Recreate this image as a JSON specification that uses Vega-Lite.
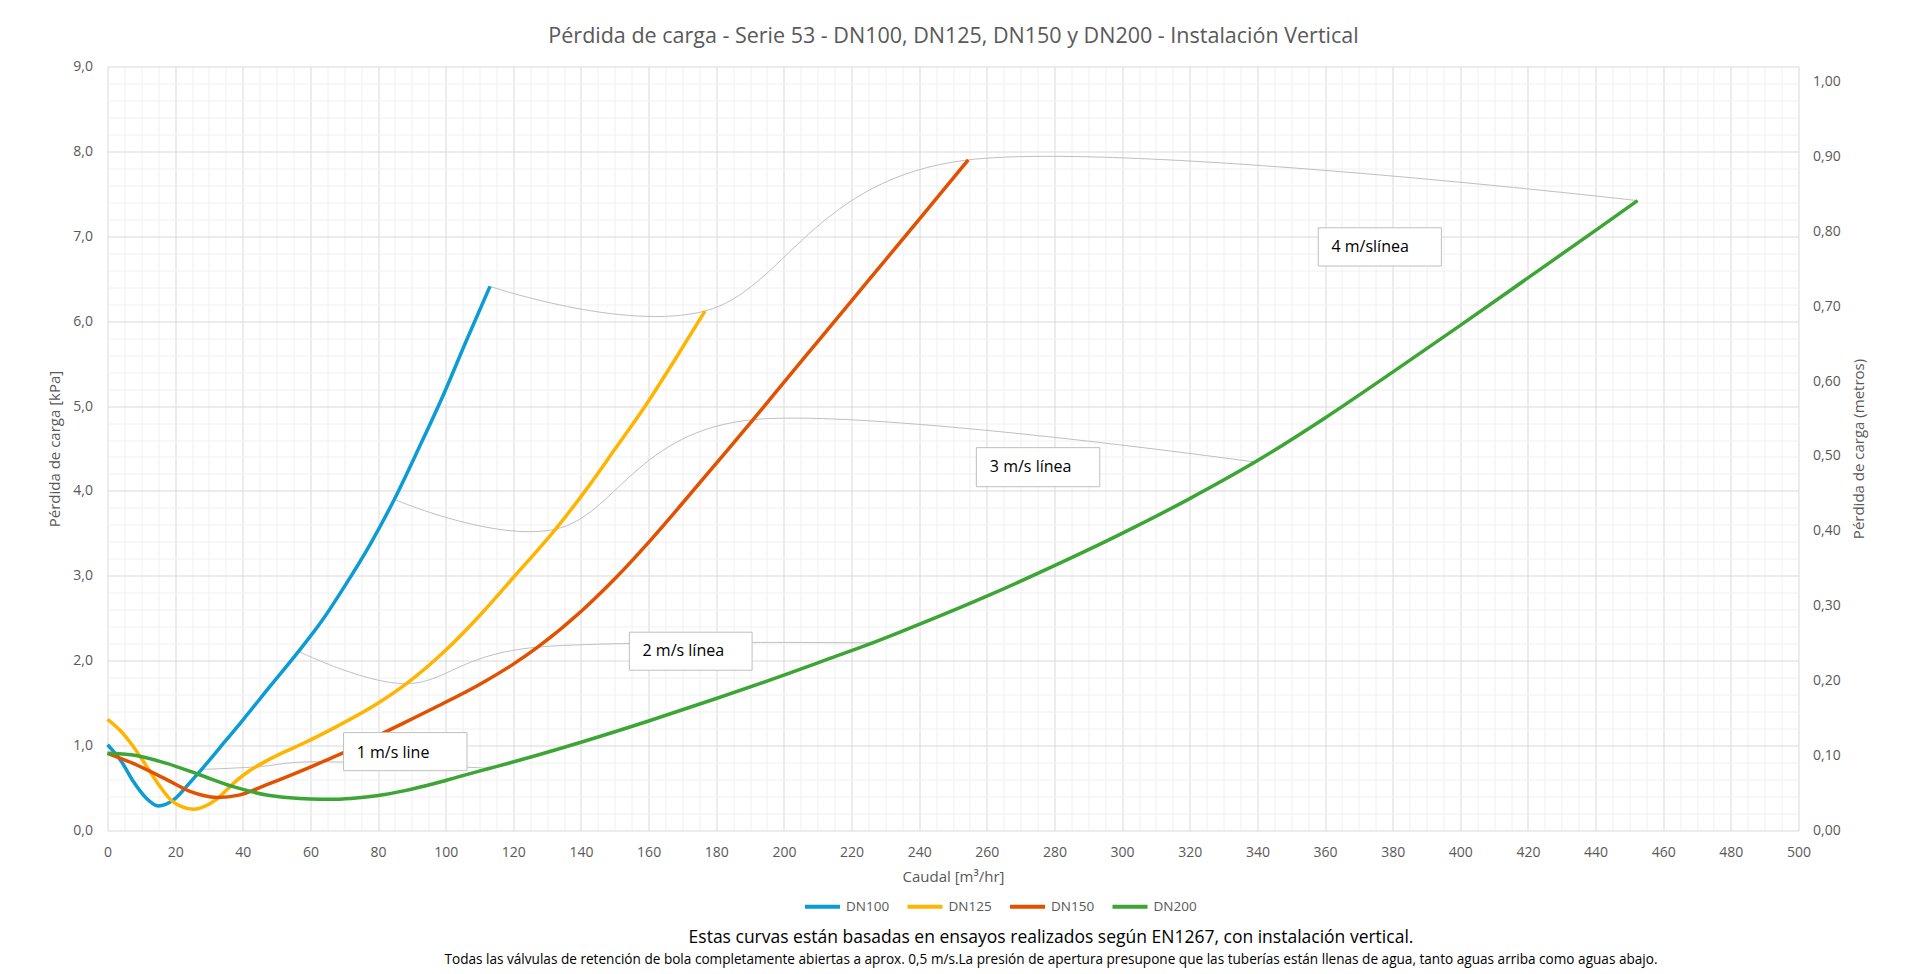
{
  "$schema": "https://vega.github.io/schema/vega-lite/v6.json",
  "width": 1691,
  "height": 764,
  "autosize": {"type": "none"},
  "padding": {"left": 107.5, "top": 66.5, "right": 116.5, "bottom": 143.5},
  "background": "white",
  "config": {"view": {"stroke": null}, "font": "Open Sans"},
  "title": {
    "text": "Estas curvas están basadas en ensayos realizados según EN1267, con instalación vertical.",
    "subtitle": "Todas las válvulas de retención de bola completamente abiertas a aprox. 0,5 m/s.La presión de apertura presupone que las tuberías están llenas de agua, tanto aguas arriba como aguas abajo.",
    "orient": "bottom",
    "anchor": "middle",
    "frame": "group",
    "fontSize": 17.5,
    "fontWeight": "normal",
    "color": "#000000",
    "subtitleFontSize": 13.6,
    "subtitleColor": "#000000",
    "subtitlePadding": 6,
    "dx": 98,
    "offset": 14
  },
  "datasets": {
    "curves": [
      {"serie": "DN100", "q": 0, "p": 1.01},
      {"serie": "DN100", "q": 4, "p": 0.82},
      {"serie": "DN100", "q": 7.6, "p": 0.58},
      {"serie": "DN100", "q": 11.5, "p": 0.38},
      {"serie": "DN100", "q": 15, "p": 0.29},
      {"serie": "DN100", "q": 19.5, "p": 0.36},
      {"serie": "DN100", "q": 23.4, "p": 0.52},
      {"serie": "DN100", "q": 27.4, "p": 0.7},
      {"serie": "DN100", "q": 33.3, "p": 0.98},
      {"serie": "DN100", "q": 40.2, "p": 1.31},
      {"serie": "DN100", "q": 48.1, "p": 1.7},
      {"serie": "DN100", "q": 56.5, "p": 2.11},
      {"serie": "DN100", "q": 63.4, "p": 2.47},
      {"serie": "DN100", "q": 70, "p": 2.87},
      {"serie": "DN100", "q": 77.8, "p": 3.38},
      {"serie": "DN100", "q": 84.8, "p": 3.9},
      {"serie": "DN100", "q": 92, "p": 4.5},
      {"serie": "DN100", "q": 99.4, "p": 5.14},
      {"serie": "DN100", "q": 106, "p": 5.76},
      {"serie": "DN100", "q": 113.1, "p": 6.41},
      {"serie": "DN125", "q": 0, "p": 1.31},
      {"serie": "DN125", "q": 3.7, "p": 1.18},
      {"serie": "DN125", "q": 7.6, "p": 0.99},
      {"serie": "DN125", "q": 11.5, "p": 0.76},
      {"serie": "DN125", "q": 15.5, "p": 0.52},
      {"serie": "DN125", "q": 19, "p": 0.35},
      {"serie": "DN125", "q": 21.4, "p": 0.29},
      {"serie": "DN125", "q": 25.5, "p": 0.25},
      {"serie": "DN125", "q": 29, "p": 0.29},
      {"serie": "DN125", "q": 32, "p": 0.36},
      {"serie": "DN125", "q": 35.3, "p": 0.48},
      {"serie": "DN125", "q": 38.5, "p": 0.6},
      {"serie": "DN125", "q": 42.2, "p": 0.71},
      {"serie": "DN125", "q": 47, "p": 0.82},
      {"serie": "DN125", "q": 52, "p": 0.92},
      {"serie": "DN125", "q": 57, "p": 1.01},
      {"serie": "DN125", "q": 68, "p": 1.23},
      {"serie": "DN125", "q": 79.6, "p": 1.49},
      {"serie": "DN125", "q": 88.4, "p": 1.73},
      {"serie": "DN125", "q": 99.9, "p": 2.12},
      {"serie": "DN125", "q": 110, "p": 2.53},
      {"serie": "DN125", "q": 120, "p": 2.98},
      {"serie": "DN125", "q": 132.5, "p": 3.55},
      {"serie": "DN125", "q": 141.8, "p": 4.03},
      {"serie": "DN125", "q": 150, "p": 4.49},
      {"serie": "DN125", "q": 159.5, "p": 5.03},
      {"serie": "DN125", "q": 168, "p": 5.56},
      {"serie": "DN125", "q": 176.7, "p": 6.12},
      {"serie": "DN150", "q": 0, "p": 0.91},
      {"serie": "DN150", "q": 7.6, "p": 0.79},
      {"serie": "DN150", "q": 17.5, "p": 0.6},
      {"serie": "DN150", "q": 24.4, "p": 0.46},
      {"serie": "DN150", "q": 32.3, "p": 0.39},
      {"serie": "DN150", "q": 39.2, "p": 0.42},
      {"serie": "DN150", "q": 47.1, "p": 0.54},
      {"serie": "DN150", "q": 58.9, "p": 0.73},
      {"serie": "DN150", "q": 63.6, "p": 0.81},
      {"serie": "DN150", "q": 70, "p": 0.92},
      {"serie": "DN150", "q": 81.6, "p": 1.15},
      {"serie": "DN150", "q": 96.4, "p": 1.44},
      {"serie": "DN150", "q": 110, "p": 1.72},
      {"serie": "DN150", "q": 120, "p": 1.96},
      {"serie": "DN150", "q": 127.2, "p": 2.16},
      {"serie": "DN150", "q": 140, "p": 2.58},
      {"serie": "DN150", "q": 150, "p": 2.965},
      {"serie": "DN150", "q": 160, "p": 3.395},
      {"serie": "DN150", "q": 170, "p": 3.855},
      {"serie": "DN150", "q": 180, "p": 4.325},
      {"serie": "DN150", "q": 190.9, "p": 4.84},
      {"serie": "DN150", "q": 200, "p": 5.28},
      {"serie": "DN150", "q": 210, "p": 5.76},
      {"serie": "DN150", "q": 220, "p": 6.24},
      {"serie": "DN150", "q": 230, "p": 6.72},
      {"serie": "DN150", "q": 240, "p": 7.2},
      {"serie": "DN150", "q": 254.5, "p": 7.9},
      {"serie": "DN200", "q": 0, "p": 0.91},
      {"serie": "DN200", "q": 7.6, "p": 0.89},
      {"serie": "DN200", "q": 17.5, "p": 0.79},
      {"serie": "DN200", "q": 27.4, "p": 0.654},
      {"serie": "DN200", "q": 37.2, "p": 0.516},
      {"serie": "DN200", "q": 47.1, "p": 0.418},
      {"serie": "DN200", "q": 54, "p": 0.385},
      {"serie": "DN200", "q": 59.9, "p": 0.372},
      {"serie": "DN200", "q": 66, "p": 0.368},
      {"serie": "DN200", "q": 72, "p": 0.378},
      {"serie": "DN200", "q": 79.6, "p": 0.41},
      {"serie": "DN200", "q": 88, "p": 0.47},
      {"serie": "DN200", "q": 96.4, "p": 0.55},
      {"serie": "DN200", "q": 104, "p": 0.635},
      {"serie": "DN200", "q": 113.1, "p": 0.733},
      {"serie": "DN200", "q": 122, "p": 0.83},
      {"serie": "DN200", "q": 140, "p": 1.04},
      {"serie": "DN200", "q": 160, "p": 1.29},
      {"serie": "DN200", "q": 180, "p": 1.555},
      {"serie": "DN200", "q": 200, "p": 1.83},
      {"serie": "DN200", "q": 212.8, "p": 2.015},
      {"serie": "DN200", "q": 226.2, "p": 2.21},
      {"serie": "DN200", "q": 234.5, "p": 2.34},
      {"serie": "DN200", "q": 260, "p": 2.76},
      {"serie": "DN200", "q": 280, "p": 3.12},
      {"serie": "DN200", "q": 300, "p": 3.5},
      {"serie": "DN200", "q": 320, "p": 3.91},
      {"serie": "DN200", "q": 339.3, "p": 4.34},
      {"serie": "DN200", "q": 360, "p": 4.86},
      {"serie": "DN200", "q": 380, "p": 5.4},
      {"serie": "DN200", "q": 400, "p": 5.95},
      {"serie": "DN200", "q": 420, "p": 6.51},
      {"serie": "DN200", "q": 440, "p": 7.07},
      {"serie": "DN200", "q": 452.4, "p": 7.42}
    ],
    "velocity": [
      {"vel": "1 m/s", "q": 28.3, "p": 0.72},
      {"vel": "1 m/s", "q": 44.2, "p": 0.75},
      {"vel": "1 m/s", "q": 63.6, "p": 0.81},
      {"vel": "1 m/s", "q": 113.1, "p": 0.733},
      {"vel": "2 m/s", "q": 56.5, "p": 2.11},
      {"vel": "2 m/s", "q": 88.4, "p": 1.73},
      {"vel": "2 m/s", "q": 127.2, "p": 2.16},
      {"vel": "2 m/s", "q": 226.2, "p": 2.21},
      {"vel": "3 m/s", "q": 84.8, "p": 3.9},
      {"vel": "3 m/s", "q": 132.5, "p": 3.55},
      {"vel": "3 m/s", "q": 190.9, "p": 4.84},
      {"vel": "3 m/s", "q": 339.3, "p": 4.34},
      {"vel": "4 m/s", "q": 113.1, "p": 6.41},
      {"vel": "4 m/s", "q": 176.7, "p": 6.12},
      {"vel": "4 m/s", "q": 254.5, "p": 7.9},
      {"vel": "4 m/s", "q": 452.4, "p": 7.42}
    ],
    "labels": [
      {"label": "1 m/s line", "qa": 69.8, "qb": 106.3, "pa": 0.705, "pb": 1.153, "tq": 73.7, "tp": 0.917},
      {"label": "2 m/s línea", "qa": 154.3, "qb": 190.6, "pa": 1.888, "pb": 2.336, "tq": 158.2, "tp": 2.11},
      {"label": "3 m/s línea", "qa": 256.9, "qb": 293.4, "pa": 4.05, "pb": 4.51, "tq": 260.9, "tp": 4.28},
      {"label": "4 m/slínea", "qa": 358.0, "qb": 394.4, "pa": 6.65, "pb": 7.1, "tq": 361.9, "tp": 6.87}
    ]
  },
  "resolve": {"axis": {"x": "independent", "y": "independent"}},
  "layer": [
    {
      "data": {"name": "velocity"},
      "mark": {"type": "line", "interpolate": "cardinal", "color": "#bfbfbf", "strokeWidth": 1},
      "encoding": {
        "x": {
          "field": "q", "type": "quantitative",
          "scale": {"domain": [0, 500], "nice": false, "zero": false},
          "axis": {
            "orient": "top", "labels": false, "ticks": false, "domain": false, "grid": false,
            "title": "Pérdida de carga - Serie 53 - DN100, DN125, DN150 y DN200 - Instalación Vertical",
            "titleFontSize": 21.5, "titleFontWeight": "normal", "titleColor": "#595959", "titlePadding": 19
          }
        },
        "y": {
          "field": "p", "type": "quantitative",
          "scale": {"domain": [0, 9], "nice": false},
          "axis": {
            "orient": "right",
            "values": [0, 0.88235, 1.76471, 2.64706, 3.52941, 4.41176, 5.29412, 6.17647, 7.05882, 7.94118, 8.82353],
            "labelExpr": "replace(format(datum.value / 8.8235294, '.2f'), '.', ',')",
            "grid": false, "ticks": false, "domain": false,
            "labelFontSize": 14, "labelColor": "#595959", "labelPadding": 14, "labelOverlap": false,
            "title": "Pérdida de carga (metros)", "titleAngle": 270, "titleBaseline": "top",
            "titleFontSize": 15, "titleFontWeight": "normal", "titleColor": "#595959", "titlePadding": 11
          }
        },
        "detail": {"field": "vel"}
      }
    },
    {
      "data": {"name": "curves"},
      "mark": {"type": "line", "interpolate": "monotone", "strokeWidth": 3.5},
      "encoding": {
        "x": {
          "field": "q", "type": "quantitative",
          "scale": {"domain": [0, 500], "nice": false, "zero": false},
          "axis": {
            "orient": "bottom",
            "values": [0,5,10,15,20,25,30,35,40,45,50,55,60,65,70,75,80,85,90,95,100,105,110,115,120,125,130,135,140,145,150,155,160,165,170,175,180,185,190,195,200,205,210,215,220,225,230,235,240,245,250,255,260,265,270,275,280,285,290,295,300,305,310,315,320,325,330,335,340,345,350,355,360,365,370,375,380,385,390,395,400,405,410,415,420,425,430,435,440,445,450,455,460,465,470,475,480,485,490,495,500],
            "labelExpr": "datum.value % 20 === 0 ? format(datum.value, 'd') : ''",
            "labelFlush": false, "labelBound": false, "labelOverlap": false,
            "grid": true,
            "gridColor": {"condition": {"test": "datum.value % 20 === 0", "value": "#d9d9d9"}, "value": "#f0f0f0"},
            "gridWidth": 1,
            "ticks": false, "domain": false,
            "labelFontSize": 14, "labelColor": "#595959", "labelPadding": 15,
            "title": "Caudal [m³/hr]", "titleFontSize": 15, "titleFontWeight": "normal", "titleColor": "#595959", "titlePadding": 10
          }
        },
        "y": {
          "field": "p", "type": "quantitative",
          "scale": {"domain": [0, 9], "nice": false},
          "axis": {
            "orient": "left",
            "values": [0,0.2,0.4,0.6,0.8,1,1.2,1.4,1.6,1.8,2,2.2,2.4,2.6,2.8,3,3.2,3.4,3.6,3.8,4,4.2,4.4,4.6,4.8,5,5.2,5.4,5.6,5.8,6,6.2,6.4,6.6,6.8,7,7.2,7.4,7.6,7.8,8,8.2,8.4,8.6,8.8,9],
            "labelExpr": "datum.value % 1 === 0 ? replace(format(datum.value, '.1f'), '.', ',') : ''",
            "labelOverlap": false,
            "grid": true,
            "gridColor": {"condition": {"test": "datum.value % 1 === 0", "value": "#d9d9d9"}, "value": "#f0f0f0"},
            "gridWidth": 1,
            "ticks": false, "domain": false,
            "labelFontSize": 14, "labelColor": "#595959", "labelPadding": 15,
            "title": "Pérdida de carga [kPa]", "titleFontSize": 15, "titleFontWeight": "normal", "titleColor": "#595959", "titlePadding": 10
          }
        },
        "color": {
          "field": "serie", "type": "nominal",
          "scale": {"domain": ["DN100", "DN125", "DN150", "DN200"], "range": ["#0B9BD5", "#FFB400", "#E25100", "#3DA535"]},
          "legend": {
            "orient": "none", "legendX": 695.5, "legendY": 820.5, "direction": "horizontal", "title": null,
            "symbolType": "stroke", "symbolSize": 1225, "symbolStrokeWidth": 4,
            "labelFontSize": 13.5, "labelColor": "#595959", "labelOffset": 4, "columnPadding": 9.5
          }
        }
      }
    },
    {
      "data": {"name": "labels"},
      "mark": {"type": "rect", "fill": "#ffffff", "stroke": "#bfbfbf", "strokeWidth": 1},
      "encoding": {
        "x": {"field": "qa", "type": "quantitative", "scale": {"domain": [0, 500], "nice": false, "zero": false}, "axis": null},
        "x2": {"field": "qb"},
        "y": {"field": "pa", "type": "quantitative", "scale": {"domain": [0, 9], "nice": false}, "axis": null},
        "y2": {"field": "pb"}
      }
    },
    {
      "data": {"name": "labels"},
      "mark": {"type": "text", "align": "left", "baseline": "middle", "fontSize": 16, "color": "#000000"},
      "encoding": {
        "x": {"field": "tq", "type": "quantitative", "scale": {"domain": [0, 500], "nice": false, "zero": false}, "axis": null},
        "y": {"field": "tp", "type": "quantitative", "scale": {"domain": [0, 9], "nice": false}, "axis": null},
        "text": {"field": "label"}
      }
    }
  ]
}
